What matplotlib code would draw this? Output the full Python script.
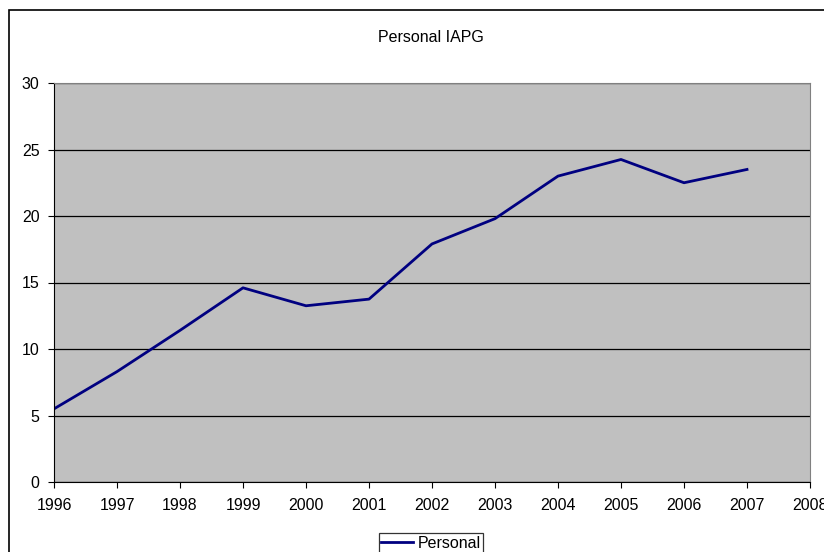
import matplotlib.pyplot as plt
from matplotlib.patches import Rectangle

years = [1996, 1997, 1998, 1999, 2000, 2001, 2002, 2003, 2004, 2005, 2006, 2007]
personal = [5.5, 8.3, 11.4, 14.6, 13.25, 13.75, 17.9, 19.8, 23.0, 24.25, 22.5, 23.5]
xticks = list(range(1996, 2009))
yticks = [0, 5, 10, 15, 20, 25, 30]

plt.rcParams['font.family'] = ['Liberation Sans', 'DejaVu Sans']

fig = plt.figure(figsize=(8.24, 5.52), dpi=100)
W, H = 824, 552
ax = fig.add_axes([54 / W, 1 - 482 / H, (810 - 54) / W, (482 - 83) / H])

# outer chart border (cut off at right/bottom like the original)
fig.patches.append(Rectangle((9 / W, -0.05), 1.0, 1 - 10 / H + 0.05,
                             transform=fig.transFigure, fill=False,
                             edgecolor='black', linewidth=1.2))

ax.set_facecolor('#c0c0c0')
ax.plot(years, personal, color='#000080', linewidth=2.0, label='Personal')

ax.set_xlim(1996, 2008)
ax.set_ylim(0, 30)
ax.set_xticks(xticks)
ax.set_yticks(yticks)
ax.yaxis.grid(True, color='black', linewidth=0.9)
ax.set_axisbelow(True)
ax.tick_params(direction='out', length=4.5, width=0.8, colors='black',
               labelsize=11.5)
ax.tick_params(axis='x', pad=7)
ax.tick_params(axis='y', pad=6)
for s in ax.spines.values():
    s.set_color('#808080')
ax.spines['left'].set_color('black')
ax.spines['bottom'].set_color('black')

fig.text(431 / W, 1 - 37 / H, 'Personal IAPG', ha='center', va='center',
         fontsize=11.5)

leg = fig.legend(loc='center', bbox_to_anchor=(431 / W, 1 - 543 / H),
                 fontsize=11.5, frameon=True, fancybox=False,
                 handlelength=2.0, handletextpad=0.3, borderpad=0.15,
                 borderaxespad=0)
leg.get_frame().set_edgecolor('black')
leg.get_frame().set_linewidth(0.9)

fig.savefig('out.png', dpi=100)
